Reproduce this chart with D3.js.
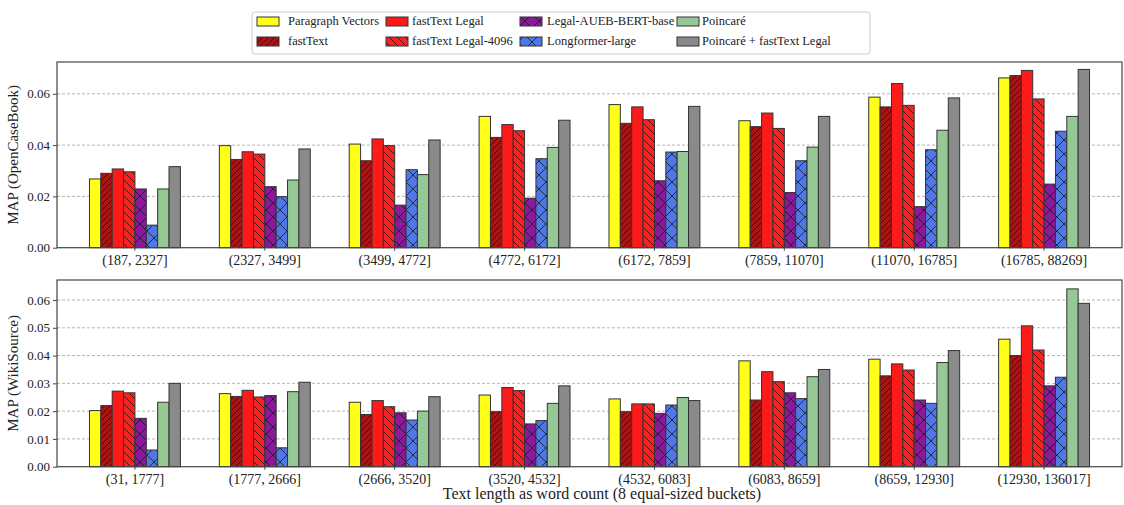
<!DOCTYPE html>
<html>
<head>
<meta charset="utf-8">
<script src="https://cdn.jsdelivr.net/npm/d3@7"></script>
<style>
body{margin:0;background:#fff;}
svg{display:block;}
text{font-family:"Liberation Serif","Times New Roman",serif;fill:#222;}
</style>
</head>
<body>
<svg id="chart" width="1124" height="505"></svg>
<script>
const seriesNames = ["Paragraph Vectors","fastText","fastText Legal","fastText Legal-4096","Legal-AUEB-BERT-base","Longformer-large","Poincaré","Poincaré + fastText Legal"];
const topCategories = ["(187, 2327]","(2327, 3499]","(3499, 4772]","(4772, 6172]","(6172, 7859]","(7859, 11070]","(11070, 16785]","(16785, 88269]"];
const bottomCategories = ["(31, 1777]","(1777, 2666]","(2666, 3520]","(3520, 4532]","(4532, 6083]","(6083, 8659]","(8659, 12930]","(12930, 136017]"];
const topTicks = [0.00,0.02,0.04,0.06];
const bottomTicks = [0.00,0.01,0.02,0.03,0.04,0.05,0.06];

// OpenCaseBook values per series (8 buckets)
const topParagraphVectors = [0.0268,0.0398,0.0404,0.0512,0.0558,0.0495,0.0587,0.0662];
const topFastText         = [0.0290,0.0344,0.0339,0.0430,0.0485,0.0472,0.0549,0.0671];
const topFastTextLegal    = [0.0307,0.0374,0.0424,0.0480,0.0549,0.0525,0.0640,0.0691];
const topFastTextLegal4096= [0.0296,0.0365,0.0398,0.0456,0.0499,0.0465,0.0555,0.0580];
const topLegalBert        = [0.0229,0.0238,0.0166,0.0193,0.0261,0.0215,0.0160,0.0248];
const topLongformer       = [0.0088,0.0199,0.0304,0.0347,0.0373,0.0339,0.0382,0.0454];
const topPoincare         = [0.0229,0.0264,0.0285,0.0391,0.0375,0.0392,0.0458,0.0512];
const topPoincareFastText = [0.0316,0.0385,0.0420,0.0497,0.0551,0.0512,0.0584,0.0695];

// WikiSource values per series (8 buckets)
const botParagraphVectors = [0.0202,0.0263,0.0232,0.0258,0.0244,0.0381,0.0387,0.0459];
const botFastText         = [0.0220,0.0253,0.0188,0.0198,0.0198,0.0240,0.0327,0.0400];
const botFastTextLegal    = [0.0272,0.0275,0.0238,0.0285,0.0226,0.0342,0.0370,0.0507];
const botFastTextLegal4096= [0.0266,0.0251,0.0216,0.0274,0.0226,0.0306,0.0348,0.0420];
const botLegalBert        = [0.0174,0.0256,0.0194,0.0154,0.0192,0.0266,0.0240,0.0291];
const botLongformer       = [0.0060,0.0068,0.0168,0.0166,0.0222,0.0245,0.0228,0.0322];
const botPoincare         = [0.0232,0.0270,0.0200,0.0228,0.0249,0.0324,0.0375,0.0640];
const botPoincareFastText = [0.0300,0.0304,0.0252,0.0291,0.0238,0.0350,0.0418,0.0588];

const topSeries = [topParagraphVectors,topFastText,topFastTextLegal,topFastTextLegal4096,topLegalBert,topLongformer,topPoincare,topPoincareFastText];
const botSeries = [botParagraphVectors,botFastText,botFastTextLegal,botFastTextLegal4096,botLegalBert,botLongformer,botPoincare,botPoincareFastText];

const fills = ["#ffff1a","url(#hFast)","#ff1a1a","url(#hLegal4096)","url(#hBert)","url(#hLong)","#96c896","#8a8a8a"];

const svg = d3.select("#chart");
const defs = svg.append("defs");
function hatch(id, bg, size, lines){
  const p = defs.append("pattern").attr("id",id).attr("patternUnits","userSpaceOnUse")
    .attr("width",size).attr("height",size);
  p.append("rect").attr("width",size).attr("height",size).attr("fill",bg);
  lines.forEach(d => p.append("path").attr("d",d).attr("stroke","#111").attr("stroke-width",1).attr("stroke-opacity",0.75).attr("fill","none"));
}
hatch("hFast","#a31717",6,["M0,6 L6,0","M-1,1 L1,-1","M5,7 L7,5"]);
hatch("hLegal4096","#ff1f1f",8,["M0,0 L8,8","M-1,7 L1,9","M7,-1 L9,1"]);
hatch("hBert","#8a1a9a",14,["M0,0 L14,14","M0,14 L14,0"]);
hatch("hLong","#4f78e6",14,["M0,0 L14,14","M0,14 L14,0"]);

const left = 57, right = 1122;
const x0 = d3.scaleBand().domain(d3.range(8)).range([left,right]).paddingInner(0.3).paddingOuter(0.25);
const x1 = d3.scaleBand().domain(d3.range(8)).range([0,x0.bandwidth()]);

function panel(cats, series, top, bottom, yMax, ticks, ylabel){
  const y = d3.scaleLinear().domain([0,yMax]).range([bottom,top]);
  const g = svg.append("g");
  g.selectAll("line.grid").data(ticks.filter(t=>t>0)).join("line")
    .attr("x1",left).attr("x2",right).attr("y1",d=>y(d)).attr("y2",d=>y(d))
    .attr("stroke","#b5b5b5").attr("stroke-width",1).attr("stroke-dasharray","3,2");
  series.forEach((vals,si)=>{
    g.selectAll(null).data(vals).join("rect")
      .attr("x",(d,i)=>x0(i)+x1(si)).attr("width",x1.bandwidth())
      .attr("y",d=>y(d)).attr("height",d=>y(0)-y(d))
      .attr("fill",fills[si]).attr("stroke","#333").attr("stroke-width",1);
  });
  g.append("rect").attr("x",left).attr("y",top).attr("width",right-left).attr("height",bottom-top)
    .attr("fill","none").attr("stroke","#444").attr("stroke-width",1.2);
  const ya = g.append("g").attr("transform",`translate(${left},0)`)
    .call(d3.axisLeft(y).tickValues(ticks).tickFormat(d3.format(".2f")).tickSize(4).tickPadding(3));
  ya.select(".domain").remove();
  ya.selectAll("line").attr("stroke","#444");
  ya.selectAll("text").style("font-size","13px").attr("fill","#333");
  const xa = g.append("g").attr("transform",`translate(0,${bottom})`)
    .call(d3.axisBottom(x0).tickFormat(i=>cats[i]).tickSize(3).tickPadding(4));
  xa.select(".domain").remove();
  xa.selectAll("line").attr("stroke","#444");
  xa.selectAll("text").style("font-size","14px").attr("fill","#333");
  g.append("text").attr("transform",`translate(15,${(top+bottom)/2}) rotate(-90)`)
    .attr("text-anchor","middle").attr("dominant-baseline","middle").style("font-size","15px").attr("fill","#333").text(ylabel);
}
panel(topCategories, topSeries, 62, 247.7, 0.0724, topTicks, "MAP (OpenCaseBook)");
panel(bottomCategories, botSeries, 280, 466.7, 0.0672, bottomTicks, "MAP (WikiSource)");

svg.append("text").attr("x",602).attr("y",499).attr("text-anchor","middle")
  .style("font-size","16px").attr("fill","#333").text("Text length as word count (8 equal-sized buckets)");

// legend
const lg = svg.append("g");
lg.append("rect").attr("x",252).attr("y",12).attr("width",618).attr("height",42).attr("rx",3)
  .attr("fill","#fff").attr("stroke","#ccc");
const colX = [257,386,520,677];
const textX = [288,412,547,702];
seriesNames.forEach((n,i)=>{
  const c = Math.floor(i/2), r = i%2;
  const gx = colX[c], gy = r? 42 : 22;
  lg.append("rect").attr("x",gx).attr("y",gy-5).attr("width",22).attr("height",9)
    .attr("fill",fills[i]).attr("stroke","#333").attr("stroke-width",1);
  lg.append("text").attr("x",textX[c]).attr("y",gy).attr("dominant-baseline","middle")
    .style("font-size","12.5px").attr("fill","#333").text(n);
});
</script>
</body>
</html>
